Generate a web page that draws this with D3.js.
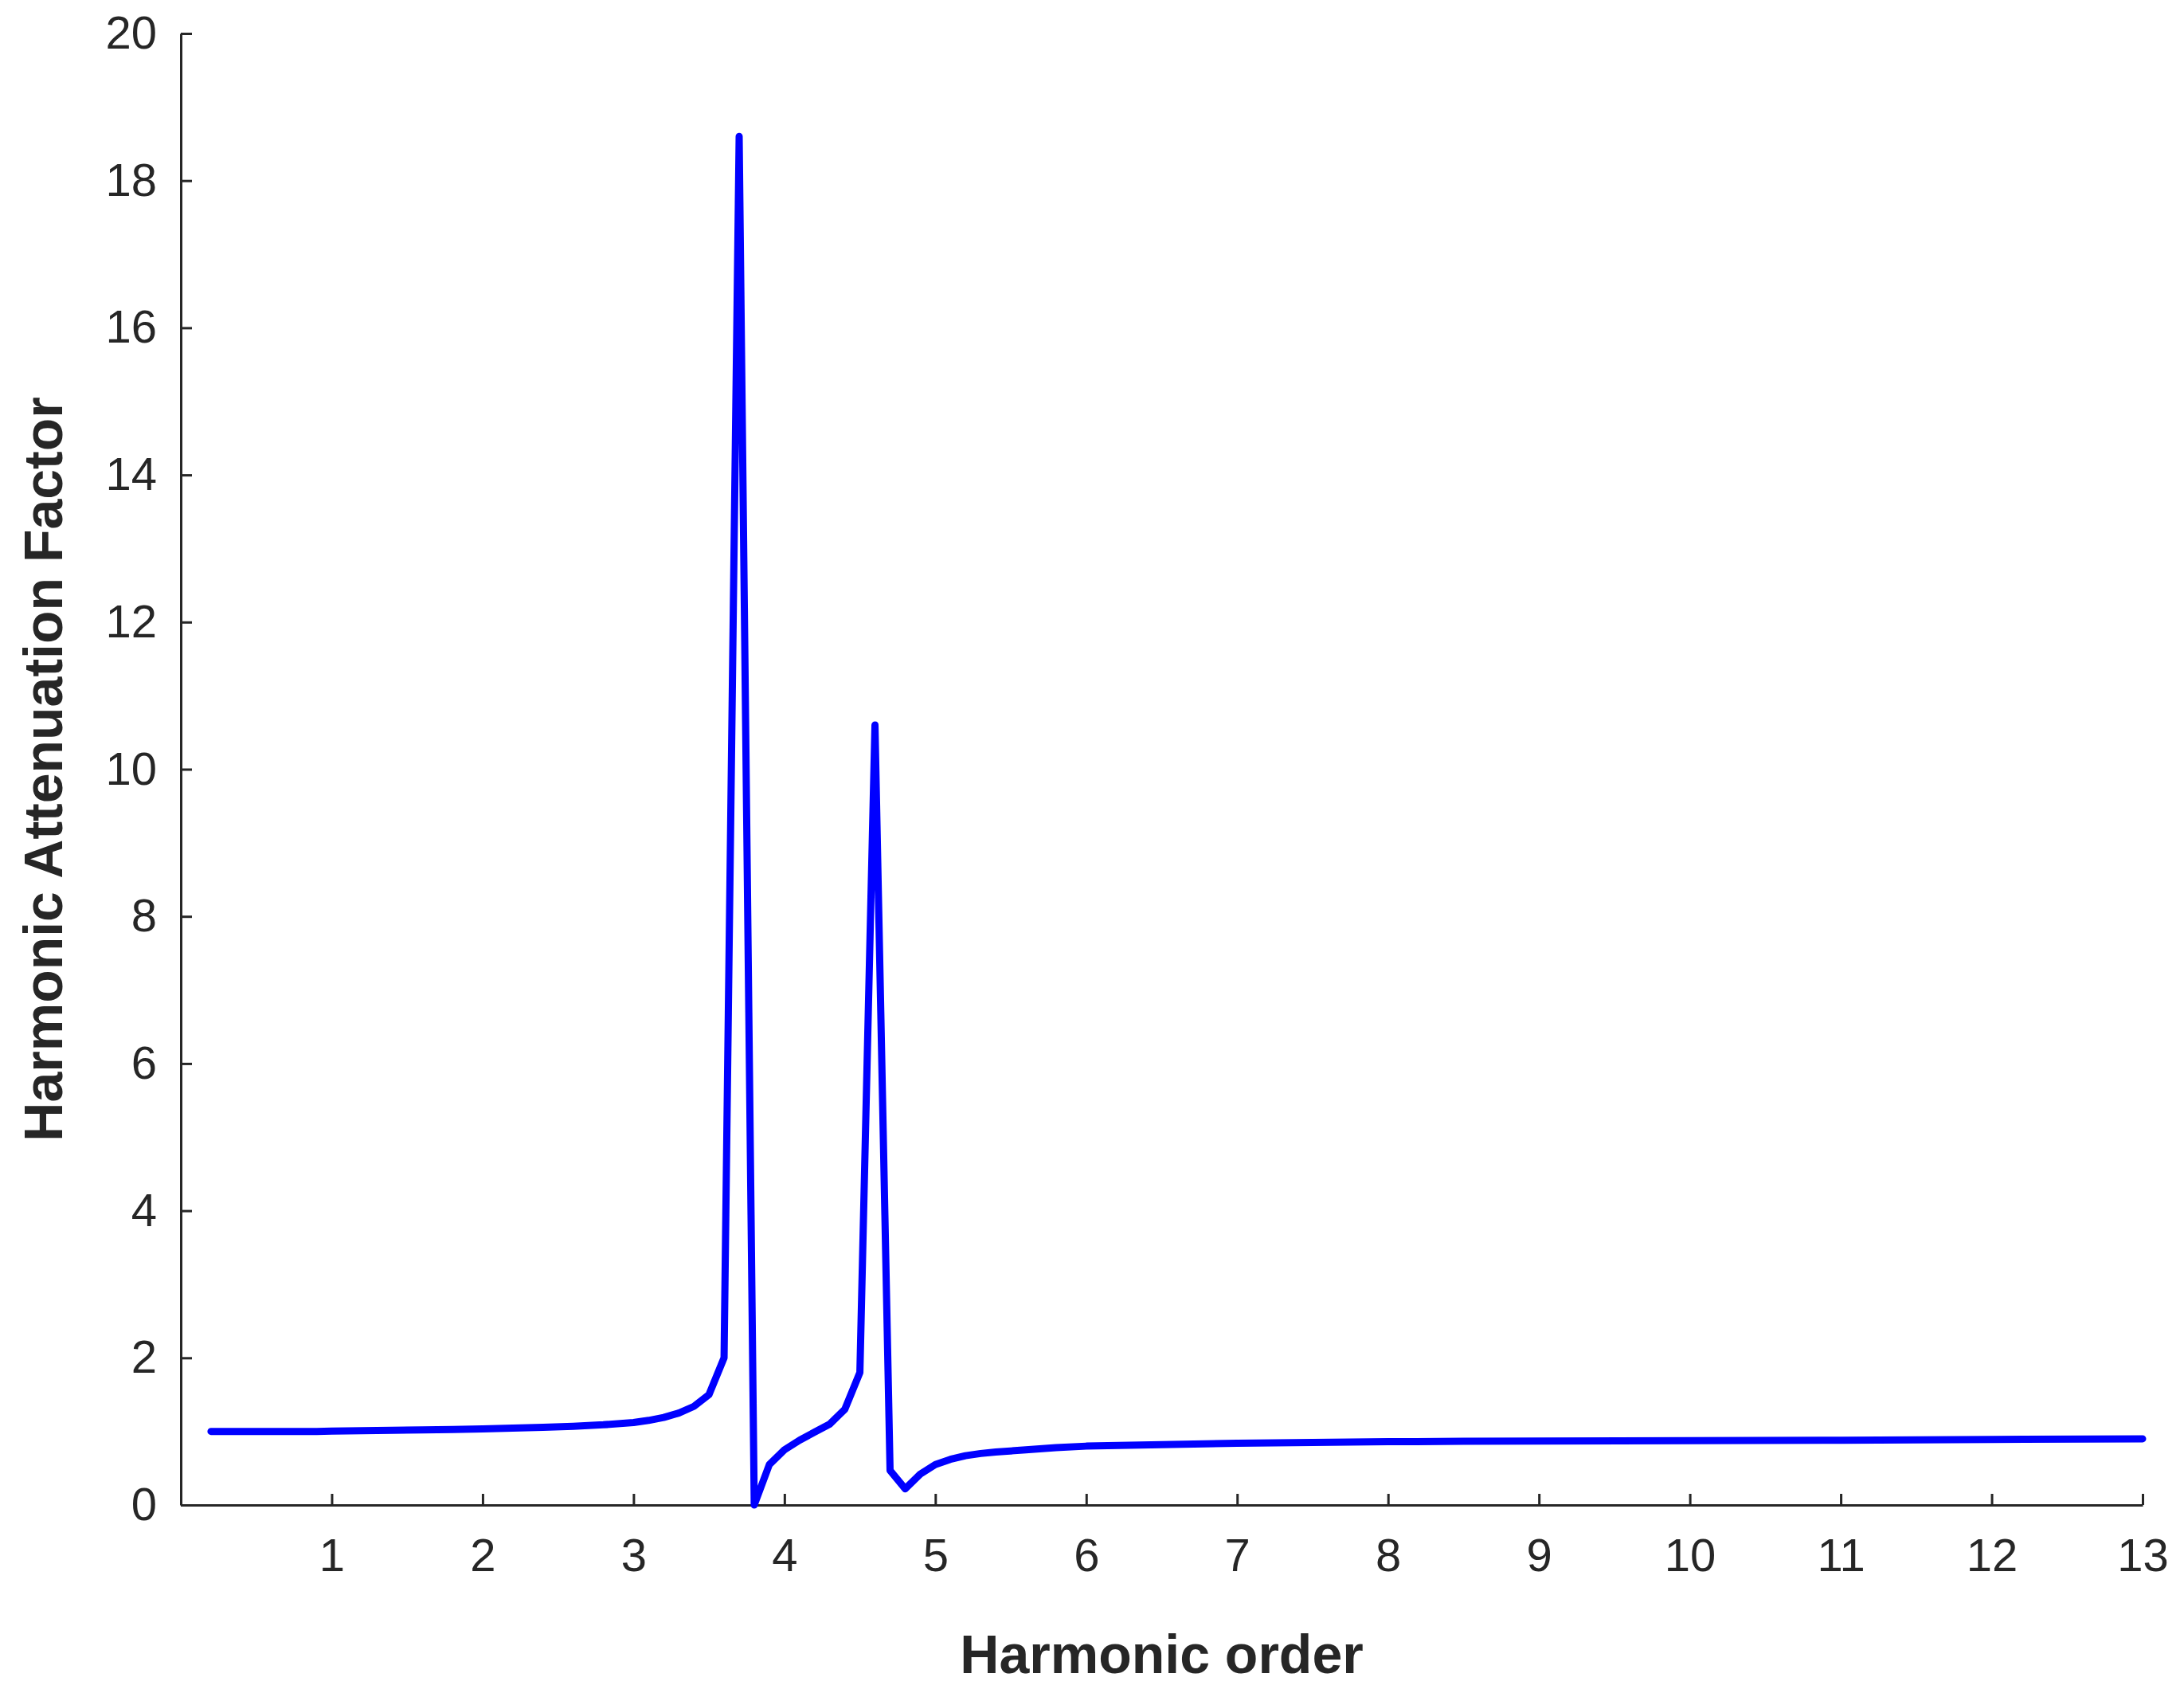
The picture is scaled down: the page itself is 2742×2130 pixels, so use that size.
<!DOCTYPE html>
<html><head><meta charset="utf-8">
<script src="https://cdn.jsdelivr.net/npm/d3@7"></script>
<style>body{margin:0;background:#fff}text{font-family:"Liberation Sans",Arial,sans-serif;fill:#262626}</style>
</head><body><div id="chart"></div>
<script>
var orders = [0.2,0.3,0.4,0.5,0.6,0.7,0.8,0.9,1.0,1.2,1.4,1.6,1.8,2.0,2.2,2.4,2.6,2.8,3.0,3.1,3.2,3.3,3.4,3.5,3.6,3.7,3.8,3.9,4.0,4.1,4.2,4.3,4.4,4.5,4.6,4.7,4.8,4.9,5.0,5.1,5.2,5.3,5.4,5.6,5.8,6.0,6.5,7.0,7.5,8.0,8.5,9.0,10.0,11.0,12.0,13.0];
var factor = [1.0,1.0,1.0,1.0,1.0,1.0,1.0,1.0,1.005,1.01,1.015,1.02,1.025,1.035,1.045,1.055,1.07,1.09,1.12,1.15,1.19,1.25,1.34,1.5,2.0,18.6,0.0,0.55,0.75,0.88,0.99,1.1,1.3,1.8,10.6,0.47,0.22,0.42,0.55,0.62,0.67,0.7,0.72,0.75,0.78,0.8,0.82,0.84,0.85,0.86,0.865,0.87,0.875,0.88,0.89,0.9];
var xTicks = [1,2,3,4,5,6,7,8,9,10,11,12,13];
var yTicks = [0,2,4,6,8,10,12,14,16,18,20];

var W = 2742, H = 2130, L = 227, R = 2690, T = 42, B = 1889;
var svg = d3.select('#chart').append('svg').attr('width', W).attr('height', H);
var x = d3.scaleLinear().domain([0, 13]).range([L, R]);
var y = d3.scaleLinear().domain([0, 20]).range([B, T]);

var xa = svg.append('g').attr('transform', 'translate(0,' + B + ')')
    .call(d3.axisBottom(x).tickValues(xTicks).tickSize(-14).tickPadding(42).tickSizeOuter(0));
var ya = svg.append('g').attr('transform', 'translate(' + L + ',0)')
    .call(d3.axisLeft(y).tickValues(yTicks).tickSize(-14).tickPadding(30).tickSizeOuter(0));
[xa, ya].forEach(function(a) {
    a.selectAll('path,line').attr('stroke', '#262626').attr('stroke-width', 3);
    a.selectAll('text').attr('font-size', 58).style('fill', '#262626');
});

svg.append('path').datum(d3.zip(orders, factor))
    .attr('fill', 'none').attr('stroke', '#0000ff').attr('stroke-width', 9)
    .attr('stroke-linejoin', 'round').attr('stroke-linecap', 'round')
    .attr('d', d3.line().x(function(d) { return x(d[0]); }).y(function(d) { return y(d[1]); }));

svg.append('text').attr('x', (L + R) / 2).attr('y', 2100).attr('text-anchor', 'middle')
    .attr('font-size', 68).attr('font-weight', 'bold').text('Harmonic order');
svg.append('text').attr('transform', 'translate(78,' + (T + B) / 2 + ')rotate(-90)').attr('text-anchor', 'middle')
    .attr('font-size', 68).attr('font-weight', 'bold').text('Harmonic Attenuation Factor');
</script></body></html>
